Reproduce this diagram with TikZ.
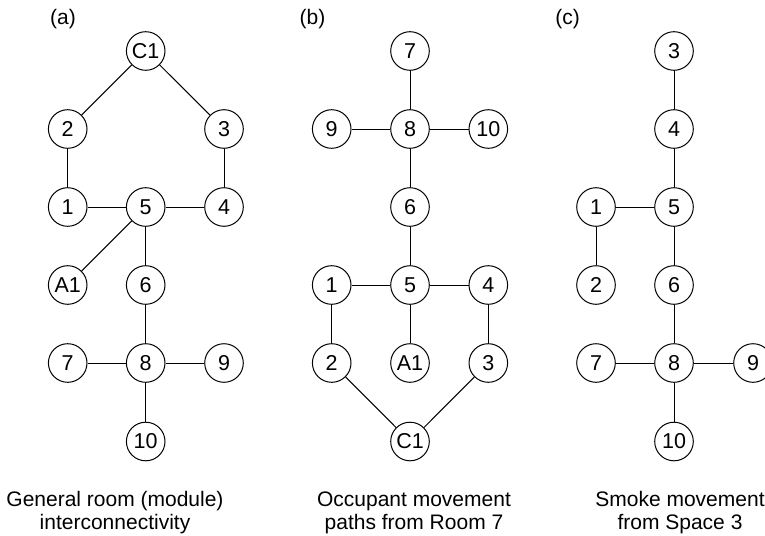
\documentclass[tikz,border=0pt]{standalone}
\usepackage{fontspec}
\setmainfont{Liberation Sans}
\begin{document}
\begin{tikzpicture}[x=1pt,y=-1pt,
  room/.style={circle,draw,line width=1pt,minimum size=38.6pt,inner sep=0pt,
    font=\fontsize{21.5}{24}\selectfont},
  link/.style={line width=1pt},
  caption/.style={anchor=base,align=center,font=\fontsize{21}{23.5}\selectfont},
  tag/.style={anchor=base,font=\fontsize{21}{24}\selectfont}]
\useasboundingbox (0,0) rectangle (765,535);
\clip (0,0) rectangle (765,535);

% (a) general room (module) interconnectivity
\node[tag] (ta) at (63,24.5) {(a)};
\node[room] (aC1) at (145.7,51) {C1};
\node[room] (a2) at (67.7,129) {2};
\node[room] (a3) at (224,129) {3};
\node[room] (a1) at (67.7,207) {1};
\node[room] (a5) at (145.7,207) {5};
\node[room] (a4) at (224,207) {4};
\node[room] (aA1) at (67.7,285) {A1};
\node[room] (a6) at (145.7,285) {6};
\node[room] (a7) at (67.7,363) {7};
\node[room] (a8) at (145.7,363) {8};
\node[room] (a9) at (224,363) {9};
\node[room] (a10) at (145.7,441.5) {10};
\draw[link] (aC1) -- (a2);
\draw[link] (aC1) -- (a3);
\draw[link] (a2) -- (a1);
\draw[link] (a3) -- (a4);
\draw[link] (a1) -- (a5);
\draw[link] (a5) -- (a4);
\draw[link] (a5) -- (aA1);
\draw[link] (a5) -- (a6);
\draw[link] (a6) -- (a8);
\draw[link] (a7) -- (a8);
\draw[link] (a8) -- (a9);
\draw[link] (a8) -- (a10);
\node[caption] (ca) at (115,529.5) {General room (module)\\interconnectivity};

% (b) occupant movement paths from room 7
\node[tag] (tb) at (312.5,24.5) {(b)};
\node[room] (b7) at (410,51) {7};
\node[room] (b9) at (331.7,129) {9};
\node[room] (b8) at (410,129) {8};
\node[room] (b10) at (488.3,129) {10};
\node[room] (b6) at (410,207) {6};
\node[room] (b1) at (331.7,285) {1};
\node[room] (b5) at (410,285) {5};
\node[room] (b4) at (488.3,285) {4};
\node[room] (b2) at (331.7,363) {2};
\node[room] (bA1) at (410,363) {A1};
\node[room] (b3) at (488.3,363) {3};
\node[room] (bC1) at (410,441.5) {C1};
\draw[link] (b7) -- (b8);
\draw[link] (b9) -- (b8);
\draw[link] (b8) -- (b10);
\draw[link] (b8) -- (b6);
\draw[link] (b6) -- (b5);
\draw[link] (b1) -- (b5);
\draw[link] (b5) -- (b4);
\draw[link] (b1) -- (b2);
\draw[link] (b5) -- (bA1);
\draw[link] (b4) -- (b3);
\draw[link] (b2) -- (bC1);
\draw[link] (b3) -- (bC1);
\node[caption] (cb) at (414,529.5) {Occupant movement\\paths from Room 7};

% (c) smoke movement from space 3
\node[tag] (tc) at (567.7,24.5) {(c)};
\node[room] (c3) at (674,51) {3};
\node[room] (c4) at (674,129) {4};
\node[room] (c1) at (596,207) {1};
\node[room] (c5) at (674,207) {5};
\node[room] (c2) at (596,285) {2};
\node[room] (c6) at (674,285) {6};
\node[room] (c7) at (596,363) {7};
\node[room] (c8) at (674,363) {8};
\node[room] (c9) at (753,363) {9};
\node[room] (c10) at (674,441.5) {10};
\draw[link] (c3) -- (c4);
\draw[link] (c4) -- (c5);
\draw[link] (c1) -- (c5);
\draw[link] (c1) -- (c2);
\draw[link] (c5) -- (c6);
\draw[link] (c6) -- (c8);
\draw[link] (c7) -- (c8);
\draw[link] (c8) -- (c9);
\draw[link] (c8) -- (c10);
\node[caption] (cc) at (680,529.5) {Smoke movement\\from Space 3};
\end{tikzpicture}
\end{document}
